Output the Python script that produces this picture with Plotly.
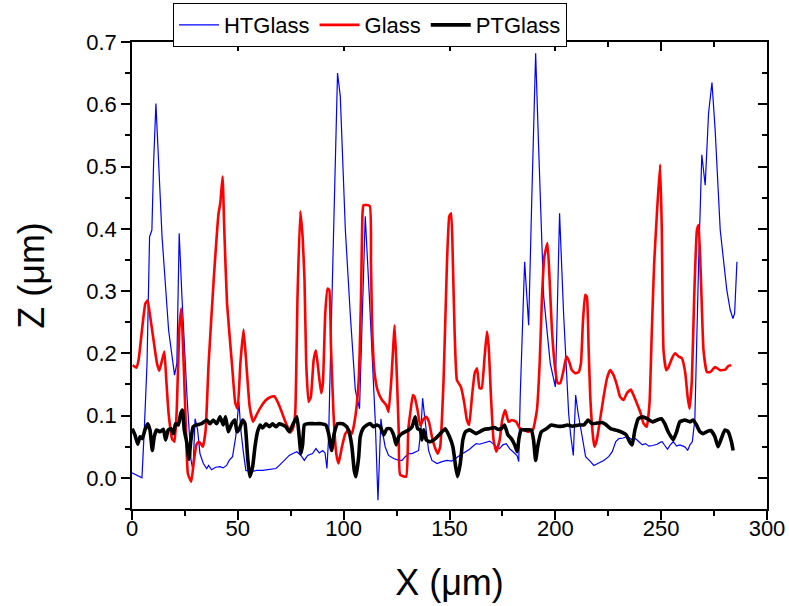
import plotly.graph_objects as go

# ---------------- data ----------------
ht_x = [0, 2.5, 4.7, 5.8, 7.1, 8.3, 9.4, 10.2, 11.3, 12.6, 14.2, 17.3, 20.1, 21.2, 22.3, 23.6, 26.0, 27.9, 28.8, 29.8,
        31.0, 32.1, 33.7, 35.3, 36.2, 37.6, 39.5, 41.6, 43.0, 44.7, 45.9, 47.5, 49.0, 50.5, 51.4, 52.7, 53.8, 56.2, 59.0, 61.7,
        64.0, 68.0, 69.6, 72.0, 74.3, 76.0, 77.9, 79.8, 81.4, 83.0, 85.3, 86.9, 88.5, 90.1, 91.2, 92.1, 92.9, 93.4, 95.3, 97.1,
        98.4, 100.8, 103.1, 105.5, 107.5, 108.6, 110.2, 112.0, 113.6, 114.9, 116.2, 117.6, 118.6, 119.6, 121.2, 123.6, 126.0, 127.6, 129.1, 130.7,
        132.3, 133.8, 135.4, 136.5, 137.3, 138.1, 139.0, 140.1, 141.7, 144.1, 146.5, 148.8, 151.0, 153.2, 154.8, 156.3, 157.9, 159.5, 160.8, 162.6,
        164.2, 165.8, 167.4, 169.0, 170.5, 172.1, 173.7, 175.2, 176.8, 178.4, 180.0, 181.9, 182.7, 183.4, 185.5, 187.4, 188.9, 190.7, 192.1, 194.5,
        197.6, 200.0, 200.7, 202.0, 203.9, 206.3, 207.2, 208.5, 209.6, 210.8, 212.7, 214.3, 216.6, 218.2, 220.5, 222.9, 225.2, 226.9, 228.5, 230.0,
        232.0, 234.0, 236.0, 237.9, 239.5, 241.1, 242.6, 244.2, 246.0, 248.1, 249.5, 250.5, 251.7, 253.0, 254.3, 255.7, 257.3, 258.8, 260.4, 261.5,
        262.5, 263.6, 264.7, 265.9, 267.7, 269.2, 270.8, 272.4, 274.0, 275.5, 277.9, 281.0, 282.6, 283.9, 284.7, 285.8]
ht_z = [0.008, 0.004, 0.0, 0.077, 0.184, 0.387, 0.398, 0.505, 0.601, 0.505, 0.387, 0.237, 0.165, 0.184, 0.393, 0.291, 0.13, 0.028, 0.012, 0.095,
        0.077, 0.039, 0.023, 0.015, 0.02, 0.013, 0.017, 0.018, 0.016, 0.02, 0.028, 0.034, 0.066, 0.122, 0.077, 0.039, 0.012, 0.01, 0.012, 0.012,
        0.013, 0.015, 0.02, 0.028, 0.036, 0.039, 0.042, 0.036, 0.028, 0.036, 0.039, 0.047, 0.04, 0.044, 0.04, 0.015, 0.066, 0.141, 0.387, 0.65,
        0.613, 0.398, 0.264, 0.141, 0.111, 0.25, 0.42, 0.30, 0.18, 0.093, -0.036, 0.095, 0.069, 0.05, 0.036, 0.031, 0.028, 0.028, 0.034, 0.039,
        0.039, 0.042, 0.044, 0.077, 0.128, 0.103, 0.077, 0.044, 0.028, 0.023, 0.026, 0.028, 0.027, 0.033, 0.036, 0.039, 0.042, 0.046, 0.05, 0.055,
        0.054, 0.056, 0.058, 0.059, 0.055, 0.05, 0.047, 0.053, 0.055, 0.047, 0.042, 0.036, 0.026, 0.13, 0.347, 0.245, 0.452, 0.682, 0.532, 0.291,
        0.184, 0.146, 0.237, 0.425, 0.264, 0.103, 0.07, 0.036, 0.133, 0.103, 0.066, 0.034, 0.026, 0.02, 0.024, 0.028, 0.034, 0.042, 0.058, 0.063,
        0.064, 0.066, 0.062, 0.063, 0.058, 0.053, 0.055, 0.051, 0.052, 0.054, 0.057, 0.058, 0.052, 0.046, 0.053, 0.058, 0.051, 0.053, 0.051, 0.049,
        0.044, 0.053, 0.058, 0.093, 0.345, 0.519, 0.47, 0.586, 0.635, 0.559, 0.398, 0.302, 0.27, 0.256, 0.264, 0.347]

glass_x = [0.3, 2.0, 3.1, 4.7, 6.3, 7.4, 8.6, 10.2, 11.8, 12.9, 14.2, 15.3, 16.2, 17.3, 18.9, 20.1, 21.2, 22.3, 23.3, 24.4,
           25.5, 26.4, 28.0, 29.1, 30.4, 31.5, 32.5, 33.5, 34.8, 36.2, 38.6, 40.9, 41.7, 42.8, 43.6, 44.9, 47.2, 48.8, 49.9, 51.2,
           52.7, 54.0, 55.6, 57.2, 59.1, 60.9, 63.3, 65.5, 67.2, 68.8, 70.4, 71.9, 73.5, 74.8, 76.0, 77.1, 78.2, 79.5, 80.6, 81.5,
           82.3, 83.4, 84.5, 85.8, 86.9, 88.2, 89.4, 90.2, 91.3, 92.4, 93.2, 94.0, 95.2, 96.5, 97.6, 99.2, 100.8, 102.3, 103.9, 105.5,
           107.1, 108.2, 108.9, 109.4, 112.3, 112.9, 113.5, 114.6, 116.0, 118.1, 120.1, 121.2, 122.5, 124.1, 125.2, 126.0, 126.7, 129.5, 130.5, 131.5,
           132.7, 133.5, 134.9, 136.2, 137.5, 139.0, 140.3, 141.7, 143.3, 144.4, 145.6, 147.2, 148.8, 149.9, 150.8, 151.6, 152.4, 153.5, 155.4, 157.0,
           158.2, 159.3, 160.6, 161.9, 163.0, 164.2, 165.2, 166.6, 167.7, 168.5, 169.6, 170.8, 172.1, 173.7, 174.9, 176.3, 177.9, 179.5, 181.5, 183.1,
           185.0, 187.4, 189.4, 191.3, 192.6, 193.7, 194.8, 196.3, 197.3, 198.4, 200.0, 201.1, 202.3, 203.9, 205.2, 206.3, 207.8, 209.4, 211.0, 212.1,
           213.0, 214.1, 214.9, 215.7, 216.5, 217.8, 218.5, 219.6, 221.2, 222.8, 224.4, 225.9, 227.5, 229.1, 230.6, 232.2, 233.8, 235.7, 236.9, 238.5,
           240.1, 241.7, 243.2, 244.5, 245.6, 246.7, 248.0, 249.5, 250.3, 251.1, 252.4, 253.5, 255.1, 256.6, 258.2, 259.8, 261.4, 262.5, 263.4, 264.5,
           265.6, 266.9, 267.7, 268.8, 270.0, 271.6, 273.2, 275.5, 277.9, 280.3, 281.8, 283.1]
glass_z = [0.181, 0.177, 0.189, 0.237, 0.28, 0.285, 0.259, 0.221, 0.184, 0.172, 0.189, 0.203, 0.157, 0.103, 0.063, 0.058, 0.114, 0.237, 0.272, 0.184,
           0.077, 0.007, -0.006, 0.023, 0.053, 0.058, 0.055, 0.05, 0.077, 0.184, 0.318, 0.425, 0.441, 0.484, 0.398, 0.28, 0.184, 0.12, 0.111, 0.184,
           0.238, 0.184, 0.114, 0.09, 0.103, 0.114, 0.125, 0.13, 0.131, 0.122, 0.109, 0.095, 0.082, 0.073, 0.079, 0.103, 0.291, 0.428, 0.387, 0.318,
           0.184, 0.122, 0.13, 0.189, 0.205, 0.168, 0.136, 0.152, 0.264, 0.304, 0.302, 0.211, 0.103, 0.039, 0.023, 0.05, 0.071, 0.077, 0.071, 0.098,
           0.157, 0.291, 0.425, 0.438, 0.437, 0.345, 0.237, 0.168, 0.141, 0.125, 0.117, 0.106, 0.157, 0.245, 0.157, 0.077, 0.005, 0.002, 0.077, 0.105,
           0.133, 0.13, 0.109, 0.084, 0.093, 0.098, 0.09, 0.066, 0.047, 0.039, 0.05, 0.157, 0.345, 0.42, 0.425, 0.345, 0.237, 0.157, 0.146, 0.12,
           0.093, 0.085, 0.13, 0.168, 0.176, 0.144, 0.144, 0.195, 0.235, 0.211, 0.13, 0.061, 0.042, 0.061, 0.093, 0.109, 0.09, 0.093, 0.09, 0.08,
           0.077, 0.074, 0.077, 0.109, 0.184, 0.291, 0.355, 0.377, 0.318, 0.237, 0.173, 0.152, 0.152, 0.173, 0.195, 0.189, 0.173, 0.168, 0.17, 0.184,
           0.248, 0.294, 0.291, 0.211, 0.13, 0.066, 0.05, 0.061, 0.095, 0.13, 0.16, 0.173, 0.165, 0.149, 0.13, 0.125, 0.136, 0.142, 0.133, 0.12,
           0.106, 0.087, 0.082, 0.12, 0.237, 0.345, 0.425, 0.503, 0.398, 0.205, 0.173, 0.178, 0.192, 0.2, 0.195, 0.192, 0.168, 0.13, 0.111, 0.157,
           0.291, 0.398, 0.406, 0.318, 0.205, 0.17, 0.17, 0.178, 0.173, 0.174, 0.18, 0.181]

pt_x = [0.1, 1.4, 2.7, 3.8, 4.9, 6.1, 7.4, 8.5, 9.6, 10.5, 11.6, 13.2, 14.8, 15.9, 17.1, 18.4, 19.5, 20.6, 21.9, 23.0,
        23.8, 24.7, 25.8, 26.9, 27.8, 28.9, 30.5, 32.9, 35.3, 36.8, 38.4, 40.0, 41.6, 43.1, 44.2, 45.5, 47.1, 48.6, 49.6, 50.9,
        52.3, 53.4, 54.6, 55.6, 57.0, 58.1, 59.3, 60.6, 61.7, 63.3, 64.9, 66.4, 68.0, 69.6, 71.2, 72.7, 74.3, 75.9, 77.9, 79.0,
        79.8, 80.6, 81.4, 83.0, 86.1, 89.3, 91.6, 92.9, 94.3, 95.5, 97.1, 99.5, 101.5, 102.8, 103.9, 105.0, 105.8, 107.1, 107.8, 109.1,
        111.0, 112.6, 114.1, 115.7, 117.3, 118.9, 120.4, 122.0, 123.6, 124.8, 126.0, 127.5, 129.1, 130.7, 132.3, 133.8, 134.9, 136.2, 137.0, 137.8,
        139.0, 140.9, 143.3, 145.6, 148.0, 150.0, 151.6, 152.9, 153.8, 155.1, 156.3, 157.6, 159.5, 161.1, 162.6, 164.2, 166.6, 168.9, 171.3, 172.9,
        174.4, 176.0, 177.6, 179.2, 180.8, 182.0, 182.8, 183.9, 186.3, 188.6, 189.7, 190.7, 191.8, 193.4, 195.8, 198.1, 200.9, 203.3, 205.7, 208.0,
        211.1, 213.5, 215.5, 217.4, 219.8, 222.1, 223.7, 226.1, 229.3, 231.6, 233.5, 235.1, 236.3, 237.6, 239.2, 241.1, 243.4, 245.8, 248.1, 250.1,
        251.7, 253.3, 255.7, 257.3, 258.8, 261.2, 263.6, 265.1, 266.7, 268.3, 269.9, 271.4, 273.5, 275.4, 276.9, 278.5, 280.1, 281.7, 283.2, 284.0]
pt_z = [0.079, 0.069, 0.054, 0.066, 0.063, 0.077, 0.087, 0.077, 0.044, 0.066, 0.077, 0.074, 0.078, 0.061, 0.077, 0.079, 0.071, 0.087, 0.085, 0.103,
        0.109, 0.077, 0.058, 0.03, 0.06, 0.082, 0.085, 0.087, 0.093, 0.087, 0.093, 0.087, 0.098, 0.085, 0.098, 0.074, 0.087, 0.093, 0.074, 0.08,
        0.093, 0.087, 0.034, 0.002, 0.018, 0.05, 0.074, 0.085, 0.08, 0.087, 0.082, 0.087, 0.082, 0.087, 0.085, 0.082, 0.074, 0.085, 0.098, 0.066,
        0.039, 0.053, 0.085, 0.087, 0.087, 0.087, 0.085, 0.071, 0.044, 0.071, 0.087, 0.087, 0.082, 0.071, 0.05, 0.012, 0.002, 0.034, 0.066, 0.079,
        0.085, 0.087, 0.082, 0.085, 0.082, 0.069, 0.079, 0.079, 0.069, 0.053, 0.066, 0.071, 0.074, 0.077, 0.082, 0.098, 0.079, 0.077, 0.061, 0.077,
        0.061, 0.058, 0.063, 0.071, 0.079, 0.066, 0.05, 0.018, 0.002, 0.023, 0.061, 0.074, 0.077, 0.074, 0.071, 0.074, 0.078, 0.079, 0.081, 0.078,
        0.079, 0.085, 0.069, 0.063, 0.053, 0.042, 0.063, 0.077, 0.077, 0.077, 0.061, 0.028, 0.053, 0.074, 0.079, 0.085, 0.083, 0.083, 0.085, 0.083,
        0.085, 0.085, 0.093, 0.087, 0.088, 0.089, 0.086, 0.079, 0.076, 0.073, 0.069, 0.058, 0.053, 0.077, 0.095, 0.098, 0.095, 0.09, 0.093, 0.095,
        0.087, 0.074, 0.061, 0.074, 0.09, 0.093, 0.09, 0.093, 0.085, 0.074, 0.071, 0.074, 0.076, 0.066, 0.05, 0.064, 0.077, 0.074, 0.058, 0.044]

series_names = ["HTGlass", "Glass", "PTGlass"]
x_tick_vals = [0, 50, 100, 150, 200, 250, 300]
y_tick_vals = [0.0, 0.1, 0.2, 0.3, 0.4, 0.5, 0.6, 0.7]

FONT = "Liberation Sans, Arial, sans-serif"

fig = go.Figure()
fig.add_trace(go.Scatter(x=ht_x, y=ht_z, mode="lines", name=series_names[0],
                         line=dict(color="#0000FF", width=1.2)))
fig.add_trace(go.Scatter(x=glass_x, y=glass_z, mode="lines", name=series_names[1],
                         line=dict(color="#FF0000", width=2.6, shape="spline", smoothing=0.4)))
fig.add_trace(go.Scatter(x=pt_x, y=pt_z, mode="lines", name=series_names[2],
                         line=dict(color="#000000", width=3.6, shape="spline", smoothing=0.4)))

axis_common = dict(showgrid=False, zeroline=False, showline=True, linecolor="black",
                   linewidth=1.5, tickcolor="black", tickwidth=1.5, automargin=False)

fig.update_layout(
    width=789, height=606,
    margin=dict(l=132, r=22, t=42, b=97, autoexpand=False),
    paper_bgcolor="white", plot_bgcolor="white",
    font=dict(family=FONT, color="black"),
    showlegend=True,
    legend=dict(orientation="h", xref="container", yref="container",
                x=0.7186, xanchor="right", y=0.995, yanchor="top",
                bordercolor="black", borderwidth=1, bgcolor="white",
                font=dict(size=22, family=FONT), itemwidth=40, tracegroupgap=0),
    xaxis=dict(range=[0, 300], tickmode="array", tickvals=x_tick_vals,
               ticks="outside", ticklen=9, tickfont=dict(size=22, family=FONT), ticklabelstandoff=-10,
               minor=dict(dtick=25, tick0=0, ticks="outside", ticklen=5, tickwidth=1.5, tickcolor="black"),
               title=dict(text="X (\u03bcm)", font=dict(size=36, family=FONT), standoff=30),
               **axis_common),
    yaxis=dict(range=[-0.05, 0.7], tickmode="array", tickvals=y_tick_vals, tickformat=".1f",
               ticks="outside", ticklen=9, tickfont=dict(size=22, family=FONT), ticklabelstandoff=0,
               minor=dict(dtick=0.05, tick0=0, ticks="outside", ticklen=5, tickwidth=1.5, tickcolor="black"),
               title=dict(text="Z (\u03bcm)", font=dict(size=36, family=FONT), standoff=31),
               **axis_common),
    xaxis2=dict(range=[0, 300], overlaying="x", side="top", tickmode="array", tickvals=x_tick_vals,
                ticks="inside", ticklen=9, showticklabels=False,
                minor=dict(dtick=25, tick0=0, ticks="inside", ticklen=5, tickwidth=1.5, tickcolor="black"),
                **axis_common),
    yaxis2=dict(range=[-0.05, 0.7], overlaying="y", side="right", tickmode="array", tickvals=y_tick_vals,
                ticks="inside", ticklen=9, showticklabels=False,
                minor=dict(dtick=0.05, tick0=0, ticks="inside", ticklen=5, tickwidth=1.5, tickcolor="black"),
                **axis_common),
)
# invisible helper trace so the mirrored axes are drawn
fig.add_trace(go.Scatter(x=[None], y=[None], xaxis="x2", yaxis="y2", showlegend=False, hoverinfo="skip"))

fig.write_html("out.html", config={"displayModeBar": False},
               post_script="document.body.style.margin='0';")
